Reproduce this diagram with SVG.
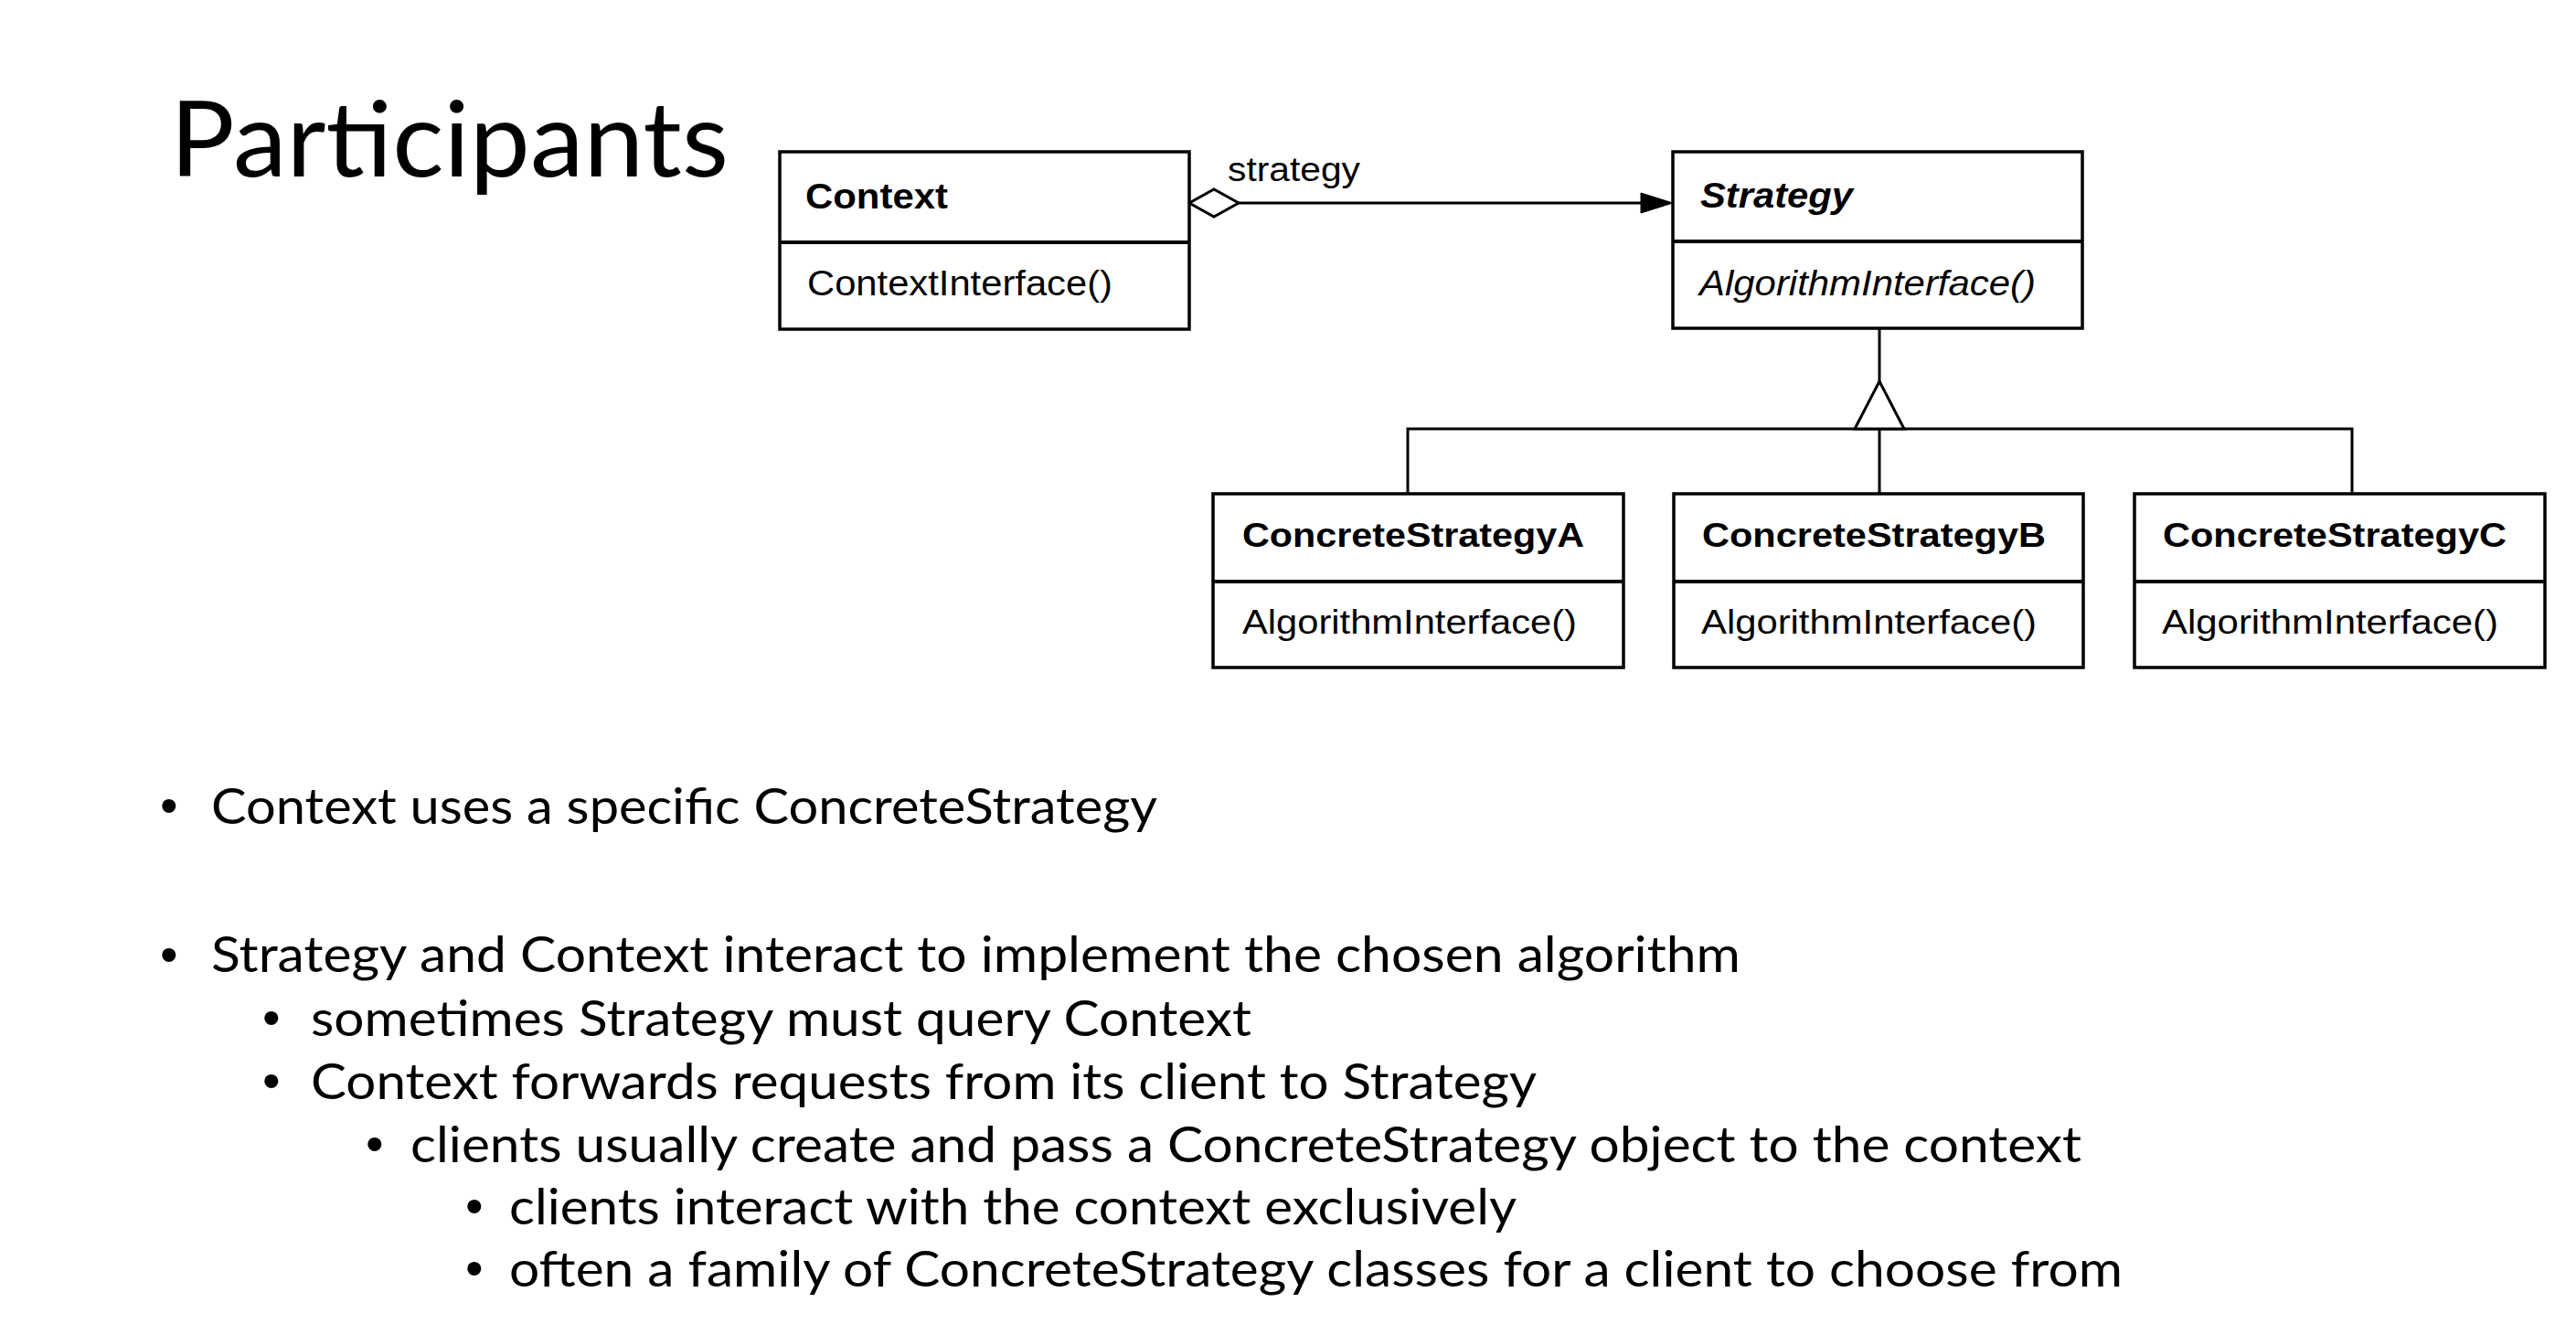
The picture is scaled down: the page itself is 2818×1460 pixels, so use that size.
<svg xmlns="http://www.w3.org/2000/svg" width="2818" height="1460" viewBox="0 0 2818 1460">
<style>
.box{fill:#fff;stroke:#000;stroke-width:3.5}
.div{stroke:#000;stroke-width:4}
.uml{font-family:"Liberation Sans",Arial,sans-serif;fill:#000}
.cls{font-weight:bold;font-size:38px}
.op{font-size:38px}
.csn{font-weight:bold;font-size:37px}
.cop{font-size:37px}
.edge{stroke:#000;stroke-width:3;fill:none}
.title{font-family:Lato,"Open Sans",sans-serif;font-size:115px;font-weight:400;fill:#000}
.body{font-family:Lato,"Open Sans",sans-serif;font-size:55px;fill:#000}
.bul{font-family:"Liberation Sans",Arial,sans-serif;font-size:56px;fill:#000}
</style>
<rect width="2818" height="1460" fill="#fff"/>
<text class="title" x="186" y="193" textLength="611" lengthAdjust="spacingAndGlyphs">Participants</text>

<g id="connectors">
  <polyline class="edge" points="1355,222 1797,222"/>
  <polygon points="1301,222 1328,207 1355,222 1328,237" fill="#fff" stroke="#000" stroke-width="3"/>
  <polygon points="1830,222 1795,211 1795,233" fill="#000" stroke="#000" stroke-width="1"/>
  <text class="uml" x="1343" y="198" font-size="37" textLength="145" lengthAdjust="spacingAndGlyphs">strategy</text>
  <line class="edge" x1="2056" y1="359" x2="2056" y2="417"/>
  <polyline class="edge" points="1540,540 1540,469 2573,469 2573,540"/>
  <line class="edge" x1="2056" y1="469" x2="2056" y2="540"/>
  <polygon points="2056,417 2029,469 2083,469" fill="#fff" stroke="#000" stroke-width="3"/>
</g>

<g id="context">
  <rect class="box" x="853" y="166" width="448" height="194"/>
  <line class="div" x1="853" y1="265" x2="1301" y2="265"/>
  <text class="uml cls" x="881" y="228" textLength="156" lengthAdjust="spacingAndGlyphs">Context</text>
  <text class="uml op" x="883" y="323" textLength="334" lengthAdjust="spacingAndGlyphs">ContextInterface()</text>
</g>

<g id="strategy">
  <rect class="box" x="1830" y="166" width="448" height="193"/>
  <line class="div" x1="1830" y1="264" x2="2278" y2="264"/>
  <text class="uml cls" x="1860" y="227" font-style="italic" textLength="167" lengthAdjust="spacingAndGlyphs">Strategy</text>
  <text class="uml op" x="1859" y="323" font-style="italic" textLength="368" lengthAdjust="spacingAndGlyphs">AlgorithmInterface()</text>
</g>

<g id="concreteStrategyA">
  <rect class="box" x="1327" y="540" width="449" height="190"/>
  <line class="div" x1="1327" y1="636" x2="1776" y2="636"/>
  <text class="uml csn" x="1359" y="598" textLength="374" lengthAdjust="spacingAndGlyphs">ConcreteStrategyA</text>
  <text class="uml cop" x="1359" y="693" textLength="366" lengthAdjust="spacingAndGlyphs">AlgorithmInterface()</text>
</g>

<g id="concreteStrategyB">
  <rect class="box" x="1831" y="540" width="448" height="190"/>
  <line class="div" x1="1831" y1="636" x2="2279" y2="636"/>
  <text class="uml csn" x="1862" y="598" textLength="376" lengthAdjust="spacingAndGlyphs">ConcreteStrategyB</text>
  <text class="uml cop" x="1861" y="693" textLength="367" lengthAdjust="spacingAndGlyphs">AlgorithmInterface()</text>
</g>

<g id="concreteStrategyC">
  <rect class="box" x="2335" y="540" width="449" height="190"/>
  <line class="div" x1="2335" y1="636" x2="2784" y2="636"/>
  <text class="uml csn" x="2366" y="598" textLength="376" lengthAdjust="spacingAndGlyphs">ConcreteStrategyC</text>
  <text class="uml cop" x="2365" y="693" textLength="368" lengthAdjust="spacingAndGlyphs">AlgorithmInterface()</text>
</g>

<g id="bullets">
  <text class="bul" x="175" y="900">•</text>
  <text class="body" x="231" y="901" textLength="1035" lengthAdjust="spacingAndGlyphs">Context uses a specific ConcreteStrategy</text>
  <text class="bul" x="175" y="1063">•</text>
  <text class="body" x="231" y="1063" textLength="1673" lengthAdjust="spacingAndGlyphs">Strategy and Context interact to implement the chosen algorithm</text>
  <text class="bul" x="287" y="1132">•</text>
  <text class="body" x="340" y="1133" textLength="1029" lengthAdjust="spacingAndGlyphs">sometimes Strategy must query Context</text>
  <text class="bul" x="287" y="1201">•</text>
  <text class="body" x="340" y="1202" textLength="1341" lengthAdjust="spacingAndGlyphs">Context forwards requests from its client to Strategy</text>
  <text class="bul" x="400" y="1270">•</text>
  <text class="body" x="449" y="1271" textLength="1828" lengthAdjust="spacingAndGlyphs">clients usually create and pass a ConcreteStrategy object to the context</text>
  <text class="bul" x="509" y="1338">•</text>
  <text class="body" x="557" y="1339" textLength="1102" lengthAdjust="spacingAndGlyphs">clients interact with the context exclusively</text>
  <text class="bul" x="509" y="1406">•</text>
  <text class="body" x="557" y="1407" textLength="1765" lengthAdjust="spacingAndGlyphs">often a family of ConcreteStrategy classes for a client to choose from</text>
</g>
</svg>
